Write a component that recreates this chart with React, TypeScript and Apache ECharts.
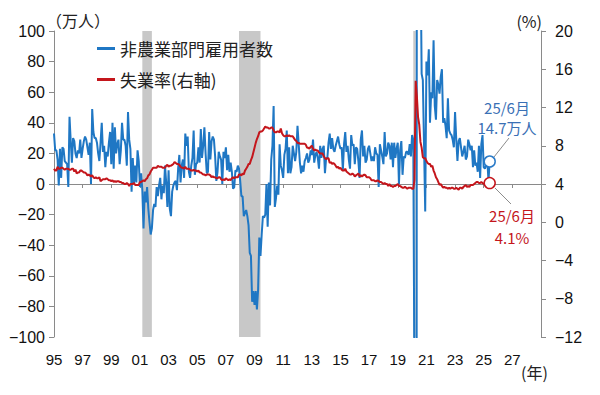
import React, { useEffect, useRef } from "react";
import * as echarts from "echarts";

const START_YEAR = 1995;
const xTickLabels = ["95", "97", "99", "01", "03", "05", "07", "09", "11", "13", "15", "17", "19", "21", "23", "25", "27"];

// Monthly change in nonfarm payrolls (10k persons), Jan 1995 - Jun 2025
const payrolls: number[] = [
  33, 22, 22, 16, -1, 23, 4, 24, 23, 15, 14, 13, // 1995
  -2, 44, 28, 14, 30, 28, 20, 17, 22, 20, 29, 17, // 1996
  23, 28, 31, 29, 24, 19, 27, 0, 49, 34, 30, 30, // 1997
  27, 20, 15, 27, 40, 21, 25, 11, 21, 18, 27, 34, // 1998
  13, 40, 10, 37, 20, 26, 29, 13, 22, 40, 29, 29, // 1999
  25, 12, 47, 29, 23, -5, 17, 0, 12, 1, 22, 15, // 2000
  -2, 7, -4, -29, -5, -12, -2, -16, -25, -33, -29, -17, // 2001
  -13, -15, -2, -8, -1, 4, -10, -1, -6, 12, 1, -15, // 2002
  9, -16, -21, -5, -1, 1, 2, -4, 10, 19, 1, 12, // 2003
  16, 4, 33, 25, 31, 8, 4, 12, 17, 35, 6, 13, // 2004
  14, 24, 14, 36, 17, 25, 37, 20, 7, 8, 34, 16, // 2005
  28, 31, 29, 18, 2, 8, 21, 18, 16, 0, 21, 17, // 2006
  24, 9, 19, 8, 14, 8, -3, -2, 9, 8, 12, 10, // 2007
  2, -8, -8, -21, -19, -17, -21, -27, -45, -47, -77, -70, // 2008
  -79, -70, -82, -69, -35, -47, -33, -21, -22, -20, 0, -28, // 2009
  1, -14, 16, 25, 51, -15, -9, -1, -7, 26, 12, 9, // 2010
  4, 19, 23, 35, 7, 24, 7, 11, 25, 20, 15, 21, // 2011
  38, 26, 14, 7, 12, 8, 15, 17, 20, 14, 16, 22, // 2012
  19, 29, 14, 19, 21, 17, 10, 25, 17, 23, 25, 7, // 2013
  17, 17, 27, 33, 23, 30, 23, 21, 25, 28, 31, 26, // 2014
  23, 24, 9, 26, 34, 21, 25, 16, 10, 32, 25, 26, // 2015
  13, 24, 23, 15, 4, 29, 35, 18, 25, 14, 16, 23, // 2016
  25, 20, 15, 18, 15, 24, 20, 19, -2, 26, 22, 18, // 2017
  13, 34, 18, 20, 27, 25, 16, 27, 11, 27, 17, 23, // 2018
  27, 0, 22, 28, 6, 18, 17, 21, 21, 19, 26, 18, // 2019
  32, 29, -137, -2048, 283, 485, 173, 158, 72, 68, 26, -18, // 2020
  80, 71, 88, 40, 60, 56, 94, 51, 42, 68, 65, 59, // 2021
  70, 75, 40, 43, 38, 30, 56, 35, 33, 32, 29, 24, // 2022
  47, 29, 15, 28, 30, 24, 18, 21, 25, 16, 18, 29, // 2023
  26, 22, 25, 11, 22, 12, 14, 8, 25, 4, 26, 32, // 2024
  11, 10, 12, 16, 2, 14.7, // 2025
];

// Unemployment rate (%), Jan 1995 - Jun 2025
const unemployment: number[] = [
  5.6, 5.4, 5.4, 5.8, 5.6, 5.6, 5.7, 5.7, 5.6, 5.5, 5.6, 5.6, // 1995
  5.6, 5.5, 5.5, 5.6, 5.6, 5.3, 5.5, 5.1, 5.2, 5.2, 5.4, 5.4, // 1996
  5.3, 5.2, 5.2, 5.1, 4.9, 5.0, 4.9, 4.8, 4.9, 4.7, 4.6, 4.7, // 1997
  4.6, 4.6, 4.7, 4.3, 4.4, 4.5, 4.5, 4.5, 4.6, 4.5, 4.4, 4.4, // 1998
  4.3, 4.4, 4.2, 4.3, 4.2, 4.3, 4.3, 4.2, 4.2, 4.1, 4.1, 4.0, // 1999
  4.0, 4.1, 4.0, 3.8, 4.0, 4.0, 4.0, 4.1, 3.9, 3.9, 3.9, 3.9, // 2000
  4.2, 4.2, 4.3, 4.4, 4.3, 4.5, 4.6, 4.9, 5.0, 5.3, 5.5, 5.7, // 2001
  5.7, 5.7, 5.7, 5.9, 5.8, 5.8, 5.8, 5.7, 5.7, 5.7, 5.9, 6.0, // 2002
  5.8, 5.9, 5.9, 6.0, 6.1, 6.3, 6.2, 6.1, 6.1, 6.0, 5.8, 5.7, // 2003
  5.7, 5.6, 5.8, 5.6, 5.6, 5.6, 5.5, 5.4, 5.4, 5.5, 5.4, 5.4, // 2004
  5.3, 5.4, 5.2, 5.2, 5.1, 5.0, 5.0, 4.9, 5.0, 5.0, 5.0, 4.9, // 2005
  4.7, 4.8, 4.7, 4.7, 4.6, 4.6, 4.7, 4.7, 4.5, 4.4, 4.5, 4.4, // 2006
  4.6, 4.5, 4.4, 4.5, 4.4, 4.6, 4.7, 4.6, 4.7, 4.7, 4.7, 5.0, // 2007
  5.0, 4.9, 5.1, 5.0, 5.4, 5.6, 5.8, 6.1, 6.1, 6.5, 6.8, 7.3, // 2008
  7.8, 8.3, 8.7, 9.0, 9.4, 9.5, 9.5, 9.6, 9.8, 10.0, 9.9, 9.9, // 2009
  9.8, 9.8, 9.9, 9.9, 9.6, 9.4, 9.4, 9.5, 9.5, 9.4, 9.8, 9.3, // 2010
  9.1, 9.0, 9.0, 9.1, 9.0, 9.1, 9.0, 9.0, 9.0, 8.8, 8.6, 8.5, // 2011
  8.3, 8.3, 8.2, 8.2, 8.2, 8.2, 8.2, 8.1, 7.8, 7.8, 7.7, 7.9, // 2012
  8.0, 7.7, 7.5, 7.6, 7.5, 7.5, 7.3, 7.2, 7.2, 7.2, 6.9, 6.7, // 2013
  6.6, 6.7, 6.7, 6.2, 6.3, 6.1, 6.2, 6.1, 5.9, 5.7, 5.8, 5.6, // 2014
  5.7, 5.5, 5.4, 5.4, 5.6, 5.3, 5.2, 5.1, 5.0, 5.0, 5.1, 5.0, // 2015
  4.8, 4.9, 5.0, 5.1, 4.8, 4.9, 4.8, 4.9, 5.0, 4.9, 4.7, 4.7, // 2016
  4.7, 4.6, 4.4, 4.4, 4.4, 4.3, 4.3, 4.4, 4.3, 4.2, 4.2, 4.1, // 2017
  4.0, 4.1, 4.0, 4.0, 3.8, 4.0, 3.8, 3.8, 3.7, 3.8, 3.8, 3.9, // 2018
  4.0, 3.8, 3.8, 3.7, 3.6, 3.6, 3.7, 3.6, 3.5, 3.6, 3.6, 3.6, // 2019
  3.5, 3.5, 4.4, 14.8, 13.2, 11.0, 10.2, 8.4, 7.8, 6.8, 6.7, 6.7, // 2020
  6.4, 6.2, 6.1, 6.1, 5.8, 5.9, 5.4, 5.1, 4.7, 4.5, 4.2, 3.9, // 2021
  4.0, 3.8, 3.6, 3.7, 3.6, 3.6, 3.5, 3.6, 3.5, 3.6, 3.6, 3.5, // 2022
  3.5, 3.6, 3.5, 3.4, 3.6, 3.6, 3.5, 3.7, 3.8, 3.9, 3.7, 3.8, // 2023
  3.7, 3.9, 3.9, 3.9, 4.0, 4.1, 4.2, 4.2, 4.1, 4.1, 4.2, 4.1, // 2024
  4.0, 4.1, 4.2, 4.2, 4.2, 4.1, // 2025
];

// Recession periods: [startYear, startMonth, endYear, endMonth]
const recessions: [number, number, number, number][] = [
  [2001, 3, 2001, 11],
  [2007, 12, 2009, 6],
  [2020, 2, 2020, 4],
];

const SERIES_PAYROLL = "非農業部門雇用者数";
const SERIES_UNEMP = "失業率(右軸)";

const BLUE = "#1f77c4";
const RED = "#c4161c";
const AXIS_GRAY = "#8a8a8a";
const FONT_LATIN = "'Liberation Sans', Arial, sans-serif";
const FONT_JP = "'Noto Sans CJK JP', 'Noto Sans', sans-serif";

const toX = (year: number, month: number) => year - START_YEAR + (month - 1) / 12;
const minus = (v: number) => String(v).replace("-", "−");

export default function App() {
  const ref = useRef<HTMLDivElement>(null);

  useEffect(() => {
    if (!ref.current) return;
    const chart = echarts.init(ref.current, null, { renderer: "svg" });

    const payData = payrolls.map((v, i) => [i / 12, v]);
    const unempData = unemployment.map((v, i) => [i / 12, v]);
    const lastPay = payData[payData.length - 1];
    const lastUn = unempData[unempData.length - 1];

    const option: any = {
      animation: false,
      backgroundColor: "#ffffff",
      grid: { left: 54, right: 59, top: 31, bottom: 58, containLabel: false },
      legend: {
        orient: "vertical",
        left: 92,
        top: 33,
        itemWidth: 18,
        itemHeight: 3,
        itemGap: 10,
        icon: "rect",
        textStyle: { fontFamily: FONT_JP, fontSize: 17, color: "#222", lineHeight: 21 },
        data: [
          { name: SERIES_PAYROLL, itemStyle: { color: BLUE } },
          { name: SERIES_UNEMP, itemStyle: { color: RED } },
        ],
      },
      xAxis: [
        {
          type: "value",
          min: 0,
          max: 34,
          interval: 2,
          position: "bottom",
          axisLine: { show: true, onZero: true, onZeroAxisIndex: 0, lineStyle: { color: AXIS_GRAY, width: 1 } },
          axisTick: { show: true, length: 4, lineStyle: { color: AXIS_GRAY } },
          axisLabel: { show: false },
          splitLine: { show: false },
        },
        {
          type: "value",
          min: 0,
          max: 34,
          interval: 2,
          position: "bottom",
          axisLine: { show: false, onZero: false },
          axisTick: { show: false },
          axisLabel: {
            show: true,
            margin: 15,
            fontFamily: FONT_LATIN,
            fontSize: 15,
            color: "#111",
            formatter: (v: number) => xTickLabels[Math.round(v / 2)] ?? "",
          },
          splitLine: { show: false },
        },
      ],
      yAxis: [
        {
          type: "value",
          min: -100,
          max: 100,
          interval: 20,
          position: "left",
          axisLine: { show: true, onZero: false, lineStyle: { color: AXIS_GRAY } },
          axisTick: { show: true, length: 5, lineStyle: { color: AXIS_GRAY } },
          axisLabel: { margin: 9, fontFamily: FONT_LATIN, fontSize: 16, color: "#111", formatter: minus },
          splitLine: { show: false },
        },
        {
          type: "value",
          min: -12,
          max: 20,
          interval: 4,
          position: "right",
          axisLine: { show: true, onZero: false, lineStyle: { color: AXIS_GRAY } },
          axisTick: { show: true, length: 5, lineStyle: { color: AXIS_GRAY } },
          axisLabel: { margin: 14, fontFamily: FONT_LATIN, fontSize: 16, color: "#111", formatter: minus },
          splitLine: { show: false },
        },
      ],
      series: [
        {
          name: "recession",
          type: "line",
          xAxisIndex: 0,
          yAxisIndex: 0,
          data: [],
          z: 1,
          silent: true,
          markArea: {
            silent: true,
            itemStyle: { color: "#c8c8c8" },
            data: recessions.map(([sy, sm, ey, em]) => [
              { xAxis: toX(sy, sm) },
              { xAxis: toX(ey, em) },
            ]),
          },
        },
        {
          name: SERIES_PAYROLL,
          type: "line",
          xAxisIndex: 0,
          yAxisIndex: 0,
          data: payData,
          showSymbol: false,
          clip: true,
          z: 3,
          lineStyle: { color: BLUE, width: 2 },
          itemStyle: { color: BLUE },
          markPoint: {
            symbol: "circle",
            symbolSize: 11,
            label: { show: false },
            itemStyle: { color: "#ffffff", borderColor: "#2b7bc8", borderWidth: 1.5 },
            data: [{ coord: lastPay }],
          },
        },
        {
          name: SERIES_UNEMP,
          type: "line",
          xAxisIndex: 0,
          yAxisIndex: 1,
          data: unempData,
          showSymbol: false,
          clip: true,
          z: 4,
          lineStyle: { color: RED, width: 2 },
          itemStyle: { color: RED },
          markPoint: {
            symbol: "circle",
            symbolSize: 11,
            label: { show: false },
            itemStyle: { color: "#ffffff", borderColor: RED, borderWidth: 1.5 },
            data: [{ coord: lastUn }],
          },
        },
      ],
      graphic: [
        { type: "text", left: 46, top: 12, style: { text: "（万人）", fontFamily: FONT_JP, fontSize: 16, fill: "#222" } },
        { type: "text", right: 58, top: 13, style: { text: "(%)", fontFamily: FONT_JP, fontSize: 16, fill: "#222" } },
        { type: "text", left: 521, top: 364, style: { text: "(年)", fontFamily: FONT_JP, fontSize: 16, fill: "#222" } },
        { type: "text", x: 507, y: 107, style: { text: "25/6月", fontFamily: FONT_JP, fontSize: 15, fill: "#3a70b5", align: "center", verticalAlign: "middle" } },
        { type: "text", x: 507, y: 127, style: { text: "14.7万人", fontFamily: FONT_JP, fontSize: 15, fill: "#3a70b5", align: "center", verticalAlign: "middle" } },
        { type: "text", x: 512, y: 215, style: { text: "25/6月", fontFamily: FONT_JP, fontSize: 15, fill: RED, align: "center", verticalAlign: "middle" } },
        { type: "text", x: 512, y: 237, style: { text: "4.1%", fontFamily: FONT_JP, fontSize: 15, fill: RED, align: "center", verticalAlign: "middle" } },
        { type: "line", shape: { x1: 494, y1: 157, x2: 509, y2: 138 }, style: { stroke: "#8c8c8c", lineWidth: 1 } },
        { type: "line", shape: { x1: 495, y1: 188, x2: 511, y2: 204 }, style: { stroke: "#8c8c8c", lineWidth: 1 } },
      ],
    };

    chart.setOption(option);
    return () => chart.dispose();
  }, []);

  return <div ref={ref} style={{ width: 600, height: 395, position: "absolute", left: 0, top: 0 }} />;
}
